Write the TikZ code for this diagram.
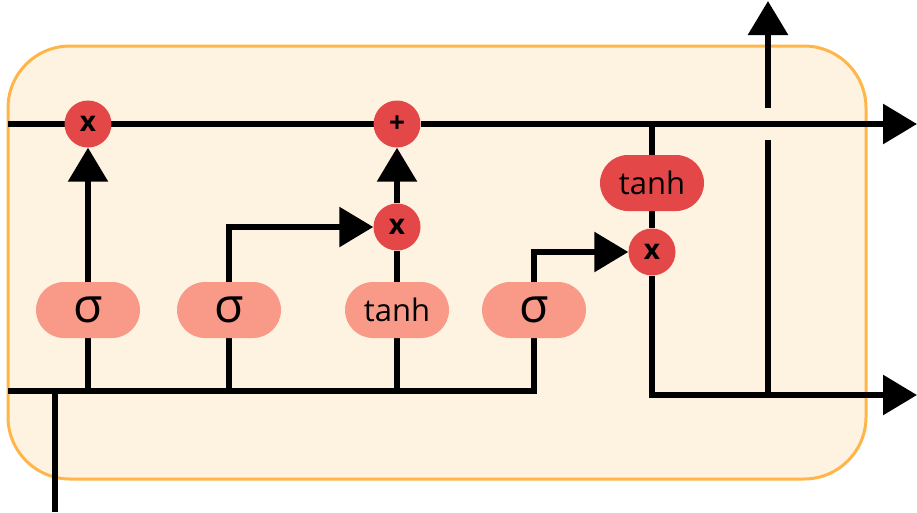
\documentclass[tikz,border=0pt]{standalone}
\usepackage{fontspec}
\setmainfont{Open Sans}
\usetikzlibrary{arrows.meta}
\pgfdeclarelayer{boxlayer}
\pgfdeclarelayer{linelayer}
\pgfsetlayers{boxlayer,linelayer,main}
\definecolor{boxfill}{HTML}{FEF2E1}
\definecolor{boxline}{HTML}{FFB547}
\definecolor{pillc}{HTML}{F99A88}
\definecolor{redc}{HTML}{E44747}
\tikzset{
  ln/.style={line width=6pt, draw=black},
  arr/.style={ln, -{Triangle[length=34pt,width=39pt]}},
  opc/.style={circle, fill=redc, minimum size=47pt, inner sep=0pt, font=\fontsize{28}{28}\selectfont\bfseries},
  pill/.style={rectangle, rounded corners=28pt, fill=pillc, minimum width=104pt, minimum height=56pt, inner sep=0pt},
  darkpill/.style={pill, fill=redc},
  sig/.style={font=\fontsize{48}{48}\selectfont},
  tnh/.style={font=\fontsize{31}{31}\selectfont}
}
\begin{document}
\begin{tikzpicture}[x=1pt,y=-1pt]
\useasboundingbox (0,0) rectangle (917,512);
\begin{pgfonlayer}{boxlayer}
\draw[fill=boxfill, draw=boxline, line width=3pt, rounded corners=62pt] (8,46) rectangle (866,479);
\end{pgfonlayer}
% nodes
\node[opc] (f) at (88,124) {x};
\node[opc] (p) at (397,124) {+};
\node[opc] (i) at (397,227) {x};
\node[opc] (o) at (652,252) {x};
\node[darkpill, tnh] (th2) at (652,183) {tanh};
\node[pill, sig] (s1) at (88,310) {σ};
\node[pill, sig] (s2) at (229,310) {σ};
\node[pill, tnh] (tc) at (397,310) {tanh};
\node[pill, sig] (s3) at (534,310) {σ};
% coordinates
\coordinate (cin) at (8,124);
\coordinate (cout) at (917,124);
\coordinate (hin) at (8,391);
\coordinate (s3b) at (534,391);
\coordinate (xin) at (55,512);
\coordinate (hout) at (917,395);
\coordinate (vbot) at (768,395);
\coordinate (vgapa) at (768,140);
\coordinate (vgapb) at (768,108);
\coordinate (hup) at (768,1);
\begin{pgfonlayer}{linelayer}
\draw[ln] (cin) -- (f.center) -- (p.center);
\draw[arr] (p) -- (cout);
\draw[arr] (s1) -- (f);
\draw[arr] (s2) |- (i);
\draw[ln] (tc) -- (i);
\draw[arr] (i) -- (p);
\draw[arr] (s3) |- (o);
\draw[ln] (hin) -- (s3b) -- (s3);
\draw[ln] (s1) -- (s1 |- hin);
\draw[ln] (s2) -- (s2 |- hin);
\draw[ln] (tc) -- (tc |- hin);
\draw[ln] (xin) -- (xin |- hin);
\draw[ln] (th2) -- (th2 |- cin);
\draw[ln] (th2) -- (o);
\draw[arr] (o) |- (hout);
\draw[ln] (vbot) -- (vgapa);
\draw[arr] (vgapb) -- (hup);
\end{pgfonlayer}
\end{tikzpicture}
\end{document}
